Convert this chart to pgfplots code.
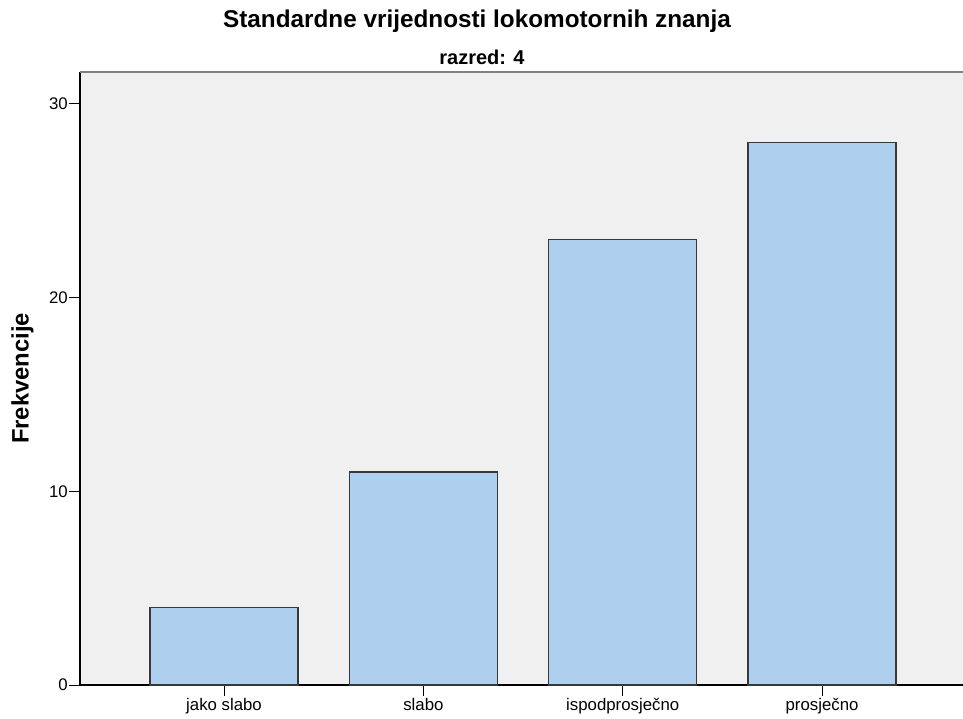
\documentclass[border=0pt]{standalone}
\usepackage{pgfplots}
\pgfplotsset{compat=1.18}
\usepackage{fontspec}
\setmainfont{Liberation Sans}
\definecolor{bgc}{HTML}{F0F0F0}
\definecolor{barc}{HTML}{AED0EE}
\definecolor{edgec}{HTML}{383838}
\begin{document}
\begin{tikzpicture}
\begin{axis}[
    at={(0pt,0pt)}, anchor=south west,
    scale only axis,
    width=883pt, height=613pt,
    xmin=-0.7225, xmax=3.707,
    ymin=0, ymax=31.65,
    axis x line=bottom, axis y line=left,
    axis line style={-, black, line width=1.2pt},
    axis background/.style={fill=bgc},
    xtick={0,1,2,3},
    xticklabels={jako slabo, slabo, ispodprosječno, prosječno},
    ytick={0,10,20,30},
    tick align=outside,
    major tick length=11pt,
    tick style={black, line width=1pt},
    /pgf/number format/assume math mode=true,
    ticklabel style={font=\fontsize{16.8}{18}\selectfont, inner sep=1pt},
    xticklabel style={yshift=-1pt},
    ylabel={\textbf{Frekvencije}},
    ylabel style={font=\fontsize{23.8}{26}\selectfont, at={(rel axis cs:0,0.5)}, anchor=center, yshift=57.5pt},
    ybar, bar width=0.743,
]
\addplot[fill=barc, draw=edgec, line width=1.3pt] coordinates {(0,4) (1,11) (2,23) (3,28)};
\draw[gray, line width=2.2pt] (rel axis cs:0,1) -- (rel axis cs:1,1);
\end{axis}
\node[font=\fontsize{24.3}{28}\selectfont\bfseries] at (397pt,664pt) {Standardne vrijednosti lokomotornih znanja};
\node[font=\fontsize{20}{22}\selectfont\bfseries] at (402pt,628pt) {razred: 4};
\pgfresetboundingbox
\path (-80pt,-33pt) rectangle (883pt,685pt);
\end{tikzpicture}
\end{document}
